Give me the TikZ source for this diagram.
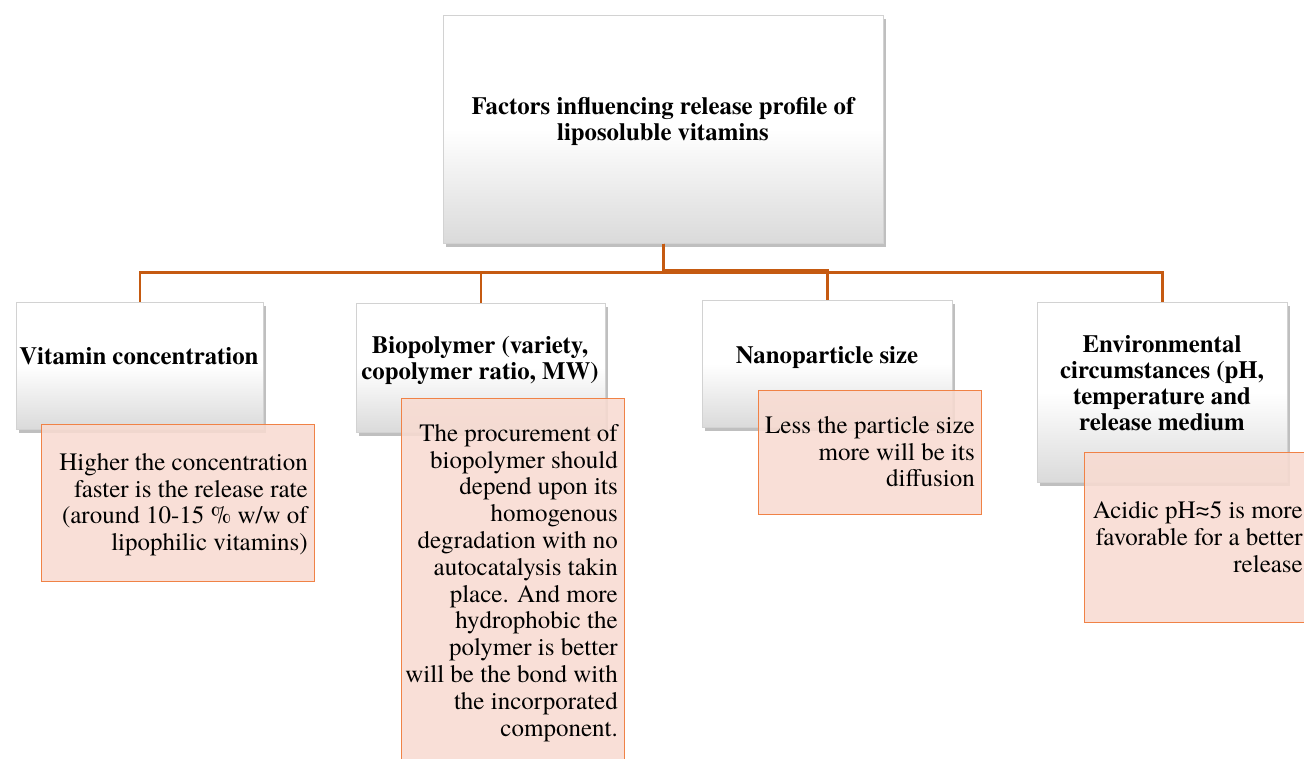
\documentclass[tikz,border=0pt]{standalone}
\usepackage{fontspec}
\IfFontExistsTF{texgyretermes-regular.otf}{%
  \setmainfont{texgyretermes}[Extension=.otf, UprightFont=*-regular, BoldFont=*-bold,
    ItalicFont=*-italic, BoldItalicFont=*-bolditalic]}{%
  \setmainfont{DejaVu Serif}}
\usetikzlibrary{shadows}
\definecolor{conncol}{RGB}{197,90,17}
\definecolor{pinkfill}{RGB}{248,219,209}
\definecolor{pinkedge}{RGB}{240,130,70}
\definecolor{grayedge}{RGB}{210,210,210}
\definecolor{graybot}{RGB}{218,218,218}
\tikzset{
  conn/.style={draw=conncol, line width=2.6pt},
  graybox/.style={rectangle, anchor=north west, draw=grayedge, line width=0.6pt,
    top color=white, bottom color=graybot, middle color=white,
    drop shadow={shadow xshift=2.5pt, shadow yshift=-3.5pt, fill=black, opacity=0.25},
    inner sep=0pt},
  pinkbox/.style={rectangle, anchor=north west, draw=pinkedge, line width=1.4pt,
    fill=pinkfill, fill opacity=0.88, inner sep=0pt},
  titletext/.style={anchor=north, align=center, inner sep=0pt,
    font=\fontsize{24.8}{26}\selectfont\bfseries},
  desctext/.style={anchor=north east, align=right, inner sep=0pt,
    font=\fontsize{25}{26.8}\selectfont},
}
\begin{document}
\begin{tikzpicture}[x=1pt,y=-1pt]
\path[use as bounding box] (0,0) rectangle (1304,758);
\clip (0,0) rectangle (1304,758);

% gray boxes
\node[graybox, minimum width=440pt, minimum height=228pt] (top) at (443,15) {};
\node[graybox, minimum width=247pt, minimum height=127pt] (b1) at (16,302) {};
\node[graybox, minimum width=249pt, minimum height=129pt] (b2) at (356,303) {};
\node[graybox, minimum width=250pt, minimum height=127pt] (b3) at (702,300) {};
\node[graybox, minimum width=250pt, minimum height=180pt] (b4) at (1037,302) {};

% connectors
\draw[conn] (top.south) -- (top.south |- 0,272.5) -| (b1.north);
\draw[conn] (top.south) -- (top.south |- 0,272.5) -| (b2.north);
\draw[conn] (top.south) -- (top.south |- 0,270.5) -| (b3.north);
\draw[conn] (top.south) -- (top.south |- 0,272.5) -| (b4.north);

% titles
\node[titletext] (t0) at (663,97) {Factors influencing release profile of\\liposoluble vitamins};
\node[titletext] (t1) at (139,347) {Vitamin concentration};
\node[titletext] (t2) at (480,336) {Biopolymer (variety,\\copolymer ratio, MW)};
\node[titletext] (t3) at (827,346) {Nanoparticle size};
\node[titletext] (t4) at (1162,335) {Environmental\\circumstances (pH,\\temperature and\\release medium};

% pink boxes
\node[pinkbox, minimum width=273pt, minimum height=157pt] (p1) at (41,424) {};
\node[pinkbox, minimum width=223pt, minimum height=380pt] (p2) at (401,398) {};
\node[pinkbox, minimum width=223pt, minimum height=124pt] (p3) at (758,390) {};
\node[pinkbox, minimum width=240pt, minimum height=170pt] (p4) at (1084,452) {};

% descriptions
\node[desctext] (d1) at (308,453) {Higher the concentration\\faster is the release rate\\(around 10-15 \% w/w of\\lipophilic vitamins)};
\node[desctext] (d2) at (618,424) {The procurement of\\biopolymer should\\depend upon its\\homogenous\\degradation with no\\autocatalysis takin\\place. And more\\hydrophobic the\\polymer is better\\will be the bond with\\the incorporated\\component.};
\node[desctext] (d3) at (975,416) {Less the particle size\\more will be its\\diffusion};
\node[desctext] (d4) at (1303,501) {Acidic pH≈5 is more\\favorable for a better\\release};
\end{tikzpicture}
\end{document}
